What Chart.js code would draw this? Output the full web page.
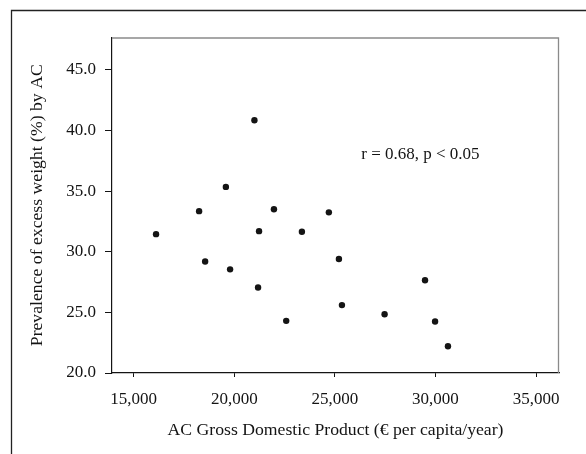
<!DOCTYPE html>
<html><head><meta charset="utf-8">
<script src="https://cdn.jsdelivr.net/npm/chart.js@4/dist/chart.umd.min.js"></script>
<style>html,body{margin:0;padding:0;background:#fff;overflow:hidden}
#wrap{position:relative;width:586px;height:454px}</style>
</head><body><div id="wrap"><canvas id="c" width="586" height="454"></canvas></div>
<script>
const gdp = [16110,18250,18550,19580,19790,21000,21180,21230,21970,22580,23360,24700,25200,25350,27470,29480,29980,30620];
const prevalence = [31.45,33.35,29.2,35.35,28.55,40.85,27.05,31.7,33.5,24.3,31.65,33.25,29.4,25.6,24.85,27.65,24.25,22.2];
const xTicks = [15000,20000,25000,30000,35000];
const yTicks = [20,25,30,35,40,45];
const xTitle = 'AC Gross Domestic Product (\u20AC per capita/year)';
const yTitle = 'Prevalence of excess weight (%) by AC';
const note = 'r = 0.68, p < 0.05';
const notePos = {x: 29250, y: 37.98};

const FONT = 'Liberation Serif';
const INK = '#141414';

const framePlugin = {
  id: 'frame',
  beforeDraw(chart) {
    const ctx = chart.ctx;
    ctx.save();
    ctx.strokeStyle = '#222';
    ctx.lineWidth = 1.3;
    ctx.beginPath();
    ctx.moveTo(11.5, 454);
    ctx.lineTo(11.5, 10.5);
    ctx.lineTo(586, 10.5);
    ctx.stroke();
    ctx.restore();
  },
  afterDraw(chart) {
    const ctx = chart.ctx, a = chart.chartArea;
    ctx.save();
    ctx.strokeStyle = '#8a8a8a';
    ctx.lineWidth = 1.3;
    ctx.beginPath();
    ctx.moveTo(a.left, a.top + 0.5);
    ctx.lineTo(a.right - 0.5, a.top + 0.5);
    ctx.lineTo(a.right - 0.5, a.bottom);
    ctx.stroke();
    const xs = chart.scales.x, ys = chart.scales.y;
    ctx.fillStyle = INK;
    ctx.font = '17px "' + FONT + '"';
    ctx.textAlign = 'center';
    ctx.textBaseline = 'middle';
    ctx.fillText(note, xs.getPixelForValue(notePos.x), ys.getPixelForValue(notePos.y));
    ctx.restore();
  }
};

new Chart(document.getElementById('c'), {
  type: 'scatter',
  data: {
    datasets: [{
      data: gdp.map((g, i) => ({x: g, y: prevalence[i]})),
      pointRadius: 3.2,
      pointHoverRadius: 3.2,
      backgroundColor: INK,
      borderWidth: 0
    }]
  },
  options: {
    responsive: false,
    animation: false,
    devicePixelRatio: 1,
    layout: {padding: {top: 37.5, right: 27, left: 0, bottom: 0}},
    plugins: {legend: {display: false}, tooltip: {enabled: false}},
    scales: {
      x: {
        type: 'linear',
        min: 13920, max: 36140,
        afterBuildTicks: s => { s.ticks = xTicks.map(v => ({value: v})); },
        afterFit: s => { s.height = 81; },
        ticks: {
          callback: v => v.toLocaleString('en-US'),
          font: {family: FONT, size: 17}, color: INK,
          padding: 12, maxRotation: 0, autoSkip: false
        },
        grid: {drawOnChartArea: false, drawTicks: true, tickLength: 4, color: INK, tickWidth: 1},
        border: {color: INK, width: 1.2},
        title: {display: true, text: xTitle, font: {family: FONT, size: 17.7}, color: INK, padding: {top: 0, bottom: 13}}
      },
      y: {
        type: 'linear',
        min: 20, max: 47.67,
        afterBuildTicks: s => { s.ticks = yTicks.map(v => ({value: v})); },
        afterFit: s => { s.width = 112; },
        ticks: {
          callback: v => v.toFixed(1),
          font: {family: FONT, size: 17}, color: INK,
          padding: 9, autoSkip: false
        },
        grid: {drawOnChartArea: false, drawTicks: true, tickLength: 7, color: INK, tickWidth: 1},
        border: {color: INK, width: 1.2},
        title: {display: true, text: yTitle, font: {family: FONT, size: 17.7}, color: INK, padding: {top: 26.5, bottom: 0}}
      }
    }
  },
  plugins: [framePlugin]
});
</script>
</body></html>
